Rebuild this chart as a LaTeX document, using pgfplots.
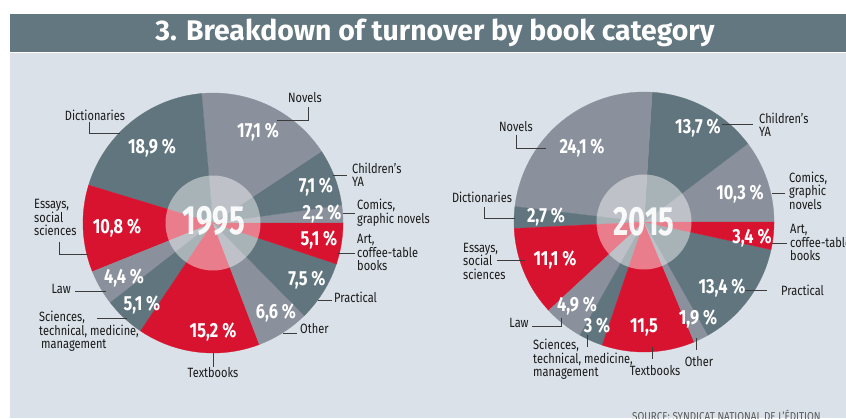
\documentclass[border=0pt]{standalone}
\usepackage{fontspec}
\usepackage{pgfplots}
\usepackage{pgfplotstable}
\pgfplotsset{compat=1.18}
\setmainfont{Fira Sans}
\newfontfamily\labfont{Fira Sans}[FakeStretch=0.82]
\newfontfamily\srcfont{Fira Sans}[FakeStretch=0.86]
\newfontfamily\pctfont{Fira Sans}[FakeStretch=0.8]
\newfontfamily\yrfont{Fira Sans}[FakeStretch=0.72]
\newfontfamily\ttlfont{Fira Sans}

\definecolor{cdark}{RGB}{97,117,126}
\definecolor{clight}{RGB}{138,144,156}
\definecolor{cred}{RGB}{215,19,47}
\definecolor{cbar}{RGB}{99,119,128}
\definecolor{cbg}{RGB}{218,225,232}
\definecolor{ctext}{RGB}{25,25,25}
\definecolor{cline}{RGB}{60,60,60}

\pgfplotstableread[col sep=comma]{
cat,value,col
Comics,2.2,clight
Children,7.1,cdark
Novels,17.1,clight
Dictionaries,18.9,cdark
Essays,10.8,cred
Law,4.4,clight
Sciences,5.1,cdark
Textbooks,15.2,cred
Other,6.6,clight
Practical,7.5,cdark
Art,5.1,cred
}\pieA

\pgfplotstableread[col sep=comma]{
cat,value,col
Comics,10.3,clight
Children,13.7,cdark
Novels,24.1,clight
Dictionaries,2.7,cdark
Essays,11.1,cred
Law,4.9,clight
Sciences,3,cdark
Textbooks,11.5,cred
Other,1.9,clight
Practical,13.4,cdark
Art,3.4,cred
}\pieB

\newcommand\drawpie[1]{%
  \pgfplotstablegetrowsof{#1}%
  \pgfmathtruncatemacro\lastrow{\pgfplotsretval-1}%
  \def\cum{0}%
  \pgfplotsforeachungrouped \i in {0,...,\lastrow}{%
    \pgfplotstablegetelem{\i}{value}\of{#1}\let\val\pgfplotsretval
    \pgfplotstablegetelem{\i}{col}\of{#1}\let\col\pgfplotsretval
    \pgfmathsetmacro\angA{3.6*\cum}%
    \pgfmathsetmacro\angB{3.6*(\cum+\val)}%
    \edef\doplot{\noexpand\addplot[fill=\col, draw=\col, line width=0.3pt, domain=\angA:\angB, samples=60] ({cos(x)},{sin(x)}) -- (axis cs:0,0) -- cycle;}%
    \doplot
    \pgfmathsetmacro\cum{\cum+\val}%
  }%
}

\pgfplotsset{pieaxis/.style={x=130bp, y=130bp, xmin=-1, xmax=1, ymin=-1, ymax=1, hide axis, clip=false, anchor=center}}

\tikzset{
  lab/.style={font=\labfont\fontsize{13.5}{13.5}\selectfont, text=ctext, inner sep=0pt, align=left},
  pct/.style={font=\pctfont\bfseries\fontsize{20.5}{20.5}\selectfont, text=white, inner sep=0pt},
  yr/.style={font=\yrfont\bfseries\fontsize{41}{41}\selectfont, text=white, text opacity=0.92, inner sep=0pt},
  ld/.style={draw=cline, line width=0.8bp},
}

\begin{document}
\begin{tikzpicture}[x=1bp,y=1bp]
\useasboundingbox (0,0) rectangle (846,418);
\clip (0,0) rectangle (846,418);
\fill[white] (0,0) rectangle (846,418);
\fill[cbg] (10,0) rectangle (846,365);
\fill[cbar] (10,366) rectangle (846,404);
\node[font=\ttlfont\bfseries\fontsize{28.5}{28.5}\selectfont, text=white, inner sep=0pt] at (435,385) {3. Breakdown of turnover by book category};

% ---- 1995 ----
\begin{axis}[pieaxis, at={(213bp,195bp)}]
\drawpie{\pieA}
\end{axis}
\fill[white, fill opacity=0.45] (213,195) circle (47.5);
\node[yr] at (214,418-221) {1995};

\node[pct] at (152,418-148) {18,9 \%};
\node[pct] at (258,418-132) {17,1 \%};
\node[pct] at (316,418-187) {7,1 \%};
\node[pct] at (322,418-214) {2,2 \%};
\node[pct] at (319,418-240) {5,1 \%};
\node[pct] at (307,418-280) {7,5 \%};
\node[pct] at (276,418-313) {6,6 \%};
\node[pct] at (213,418-332) {15,2 \%};
\node[pct] at (142,418-305) {5,1 \%};
\node[pct] at (124,418-278) {4,4 \%};
\node[pct] at (117,418-228) {10,8 \%};

\draw[ld] (89,418-122) -- (89,418-133) -- (120,418-133);
\draw[ld] (308,418-107) -- (308,418-120) -- (277,418-120);
\draw[ld] (333,418-175) -- (347,418-175);
\draw[ld] (343,418-213) -- (355,418-213);
\draw[ld] (337,418-253) -- (355,418-253);
\draw[ld] (318,418-300) -- (332,418-300);
\draw[ld] (283,418-333) -- (297,418-333);
\draw[ld] (213,418-353) -- (213,418-367);
\draw[ld] (97,418-318) -- (127,418-318);
\draw[ld] (75,418-291) -- (106,418-291);
\draw[ld] (59,418-242) -- (59,418-254) -- (88,418-254);

\node[lab] at (95,418-115) {Dictionaries};
\node[lab] at (305,418-98) {Novels};
\node[lab, anchor=west] at (352,418-174.5) {Children’s\\YA};
\node[lab, anchor=west] at (357,418-212.5) {Comics,\\graphic novels};
\node[lab, anchor=west] at (357,418-252.5) {Art,\\coffee-table\\books};
\node[lab, anchor=west] at (334,418-297) {Practical};
\node[lab, anchor=west] at (300,418-329) {Other};
\node[lab] at (213,418-373) {Textbooks};
\node[lab, anchor=west] at (39,418-331.5) {Sciences,\\technical, medicine,\\\hspace*{2bp}management};
\node[lab, anchor=east] at (71,418-289) {Law};
\node[lab, anchor=west] at (34,418-217.5) {Essays,\\social\\sciences};

% ---- 2015 ----
\begin{axis}[pieaxis, at={(644bp,196bp)}]
\drawpie{\pieB}
\end{axis}
\fill[white, fill opacity=0.45] (644,196) circle (47.5);
\node[yr] at (644,418-222) {2015};

\node[pct] at (582,418-148) {24,1 \%};
\node[pct] at (698,418-128) {13,7 \%};
\node[pct] at (740,418-194) {10,3 \%};
\node[pct] at (752,418-238) {3,4 \%};
\node[pct] at (722,418-288) {13,4 \%};
\node[pct] at (698,418-319) {1,9 \%};
\node[pct] at (644,418-327) {11,5};
\node[pct] at (597,418-326) {3 \%};
\node[pct] at (577,418-306) {4,9 \%};
\node[pct] at (555,418-260) {11,1 \%};
\node[pct] at (546,418-217) {2,7 \%};

\draw[ld] (516,418-135) -- (516,418-148) -- (546,418-148);
\draw[ld] (722,418-124) -- (753,418-124);
\draw[ld] (772,418-193) -- (785,418-193);
\draw[ld] (772,418-243) -- (787,418-243);
\draw[ld] (745,418-290) -- (767,418-290);
\draw[ld] (696,418-338) -- (696,418-350);
\draw[ld] (652,418-347) -- (652,418-359);
\draw[ld] (587,418-335) -- (587,418-347);
\draw[ld] (532,418-326) -- (561,418-326) -- (561,418-318);
\draw[ld] (497,418-260) -- (525,418-260);
\draw[ld] (484,418-207) -- (484,418-218) -- (515,418-218);

\node[lab] at (516,418-127) {Novels};
\node[lab, anchor=west] at (759,418-125) {Children’s\\YA};
\node[lab, anchor=west] at (789,418-190.5) {Comics,\\graphic\\novels};
\node[lab, anchor=west] at (790,418-242.5) {Art,\\coffee-table\\books};
\node[lab, anchor=west] at (781,418-290) {Practical};
\node[lab] at (699,418-362) {Other};
\node[lab] at (655,418-371) {Textbooks};
\node[lab, anchor=west] at (533,418-359.5) {Sciences,\\technical, medicine,\\management};
\node[lab] at (519,418-323) {Law};
\node[lab, anchor=west] at (463,418-261) {Essays,\\social\\sciences};
\node[lab] at (482,418-197) {Dictionaries};

\node[font=\srcfont\fontsize{11.5}{11.5}\selectfont, text=black!65, inner sep=0pt, anchor=base west] at (632,418-420) {SOURCE: SYNDICAT NATIONAL DE L’ÉDITION};
\end{tikzpicture}
\end{document}
